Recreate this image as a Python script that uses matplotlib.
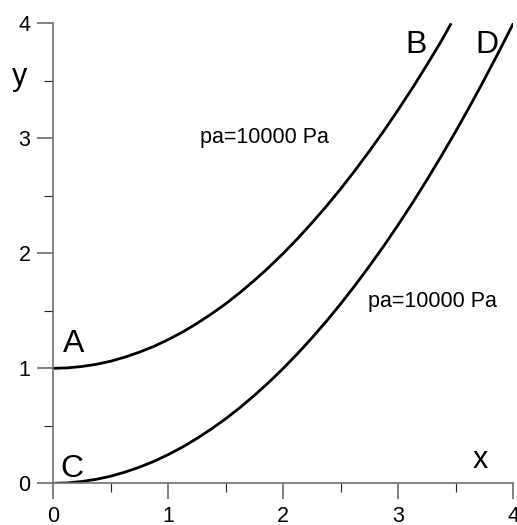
import matplotlib.pyplot as plt
from matplotlib.ticker import MultipleLocator

# curve values
x_upper = [0, 0.125, 0.25, 0.375, 0.5, 0.625, 0.75, 0.875, 1.0, 1.125, 1.25, 1.375,
           1.5, 1.625, 1.75, 1.875, 2.0, 2.125, 2.25, 2.375, 2.5, 2.625, 2.75, 2.875,
           3.0, 3.125, 3.25, 3.375, 3.46]
y_upper = [1.0, 1.004, 1.016, 1.035, 1.062, 1.098, 1.141, 1.191, 1.25, 1.316, 1.391, 1.473,
           1.562, 1.66, 1.766, 1.879, 2.0, 2.129, 2.266, 2.41, 2.562, 2.723, 2.891, 3.066,
           3.25, 3.441, 3.641, 3.848, 4.0]
x_lower = [0, 0.125, 0.25, 0.375, 0.5, 0.625, 0.75, 0.875, 1.0, 1.125, 1.25, 1.375,
           1.5, 1.625, 1.75, 1.875, 2.0, 2.125, 2.25, 2.375, 2.5, 2.625, 2.75, 2.875,
           3.0, 3.125, 3.25, 3.375, 3.5, 3.625, 3.75, 3.875, 4.0]
y_lower = [0.0, 0.004, 0.016, 0.035, 0.062, 0.098, 0.141, 0.191, 0.25, 0.316, 0.391, 0.473,
           0.562, 0.66, 0.766, 0.879, 1.0, 1.129, 1.266, 1.41, 1.562, 1.723, 1.891, 2.066,
           2.25, 2.441, 2.641, 2.848, 3.062, 3.285, 3.516, 3.754, 4.0]

tick_vals = [0, 1, 2, 3, 4]
point_labels = ["A", "B", "C", "D"]
pa_text = "pa=10000 Pa"

plt.rcParams['font.family'] = ['Liberation Sans', 'DejaVu Sans']

fig = plt.figure(figsize=(5.17, 5.25), dpi=100)
ax = fig.add_axes([0.1031, 0.0794, 0.8898, 0.8762])

ax.plot(x_upper, y_upper, color='black', lw=2.0, solid_capstyle='butt')
ax.plot(x_lower, y_lower, color='black', lw=2.0, solid_capstyle='butt')

ax.set_xlim(0, 4)
ax.set_ylim(0, 4)
ax.set_xticks(tick_vals)
ax.set_yticks(tick_vals)
ax.xaxis.set_minor_locator(MultipleLocator(0.5))
ax.yaxis.set_minor_locator(MultipleLocator(0.5))

for s in ['top', 'right']:
    ax.spines[s].set_visible(False)
for s in ['left', 'bottom']:
    ax.spines[s].set_color('#707070')
    ax.spines[s].set_linewidth(1.2)

ax.tick_params(which='major', direction='out', length=11.5, width=1.4,
               color='#808080', labelsize=15.5, pad=5)
ax.tick_params(which='minor', direction='out', length=6.3, width=0.8, color='#222222')

# point labels
ax.text(0.085, 1.143, point_labels[0], fontsize=23, va='baseline')
ax.text(3.057, 3.74, point_labels[1], fontsize=23, va='baseline')
ax.text(0.058, 0.055, point_labels[2], fontsize=23, va='baseline')
ax.text(3.667, 3.74, point_labels[3], fontsize=23, va='baseline')

# pressure notes
ax.text(1.276, 2.96, pa_text, fontsize=15.5, va='baseline')
ax.text(2.737, 1.535, pa_text, fontsize=15.5, va='baseline')

# axis names placed inside/near the axes
ax.text(3.65, 0.133, "x", fontsize=22, va='baseline')
ax.text(-0.36, 3.465, "y", fontsize=22, va='baseline', clip_on=False)

fig.savefig("out.png", dpi=100)
